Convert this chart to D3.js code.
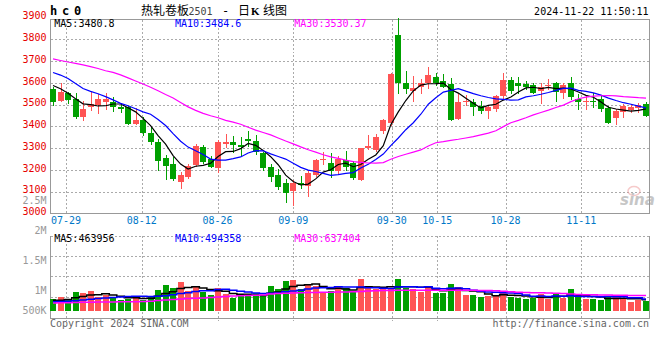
<!DOCTYPE html>
<html><head><meta charset="utf-8">
<script src="https://cdn.jsdelivr.net/npm/d3@7/dist/d3.min.js"></script>
<style>html,body{margin:0;padding:0;background:#fff;}svg{display:block;}</style>
</head><body>
<svg id="c" width="660" height="360"></svg>
<script>
const dates = ["07-25","07-26","07-29","07-30","07-31","08-01","08-02","08-05","08-06","08-07","08-08","08-09","08-12","08-13","08-14","08-15","08-16","08-19","08-20","08-21","08-22","08-23","08-26","08-27","08-28","08-29","08-30","09-02","09-03","09-04","09-05","09-06","09-09","09-10","09-11","09-12","09-13","09-18","09-19","09-20","09-23","09-24","09-25","09-26","09-27","09-30","10-08","10-09","10-10","10-11","10-14","10-15","10-16","10-17","10-18","10-21","10-22","10-23","10-24","10-25","10-28","10-29","10-30","10-31","11-01","11-04","11-05","11-06","11-07","11-08","11-11","11-12","11-13","11-14","11-15","11-18","11-19","11-20","11-21","11-22"];
const open = [3570,3518,3555,3526,3445,3488,3500,3512,3512,3491,3488,3413,3429,3370,3330,3255,3228,3147,3169,3223,3304,3249,3211,3321,3329,3315,3344,3333,3279,3214,3177,3139,3105,3142,3127,3179,3244,3231,3193,3246,3231,3154,3300,3293,3380,3414,3820,3601,3564,3579,3601,3625,3610,3593,3435,3510,3514,3494,3473,3480,3540,3613,3601,3595,3590,3564,3586,3601,3555,3601,3526,3511,3519,3525,3483,3437,3468,3476,3483,3503];
const high = [3582,3598,3558,3552,3517,3558,3548,3553,3537,3509,3494,3485,3442,3396,3341,3267,3261,3191,3228,3318,3315,3264,3338,3365,3356,3350,3380,3362,3284,3228,3203,3157,3154,3174,3199,3252,3282,3277,3264,3287,3241,3303,3361,3365,3436,3645,3897,3656,3632,3618,3674,3647,3639,3624,3552,3545,3528,3519,3494,3545,3647,3626,3629,3610,3601,3601,3618,3606,3598,3629,3547,3540,3552,3540,3494,3479,3503,3503,3509,3514];
const low = [3498,3516,3509,3439,3429,3476,3463,3482,3473,3466,3411,3411,3359,3320,3200,3160,3154,3118,3162,3220,3234,3212,3192,3307,3284,3269,3312,3272,3200,3151,3111,3053,3037,3115,3082,3174,3226,3166,3185,3200,3159,3152,3298,3288,3371,3407,3552,3555,3519,3552,3575,3590,3579,3428,3433,3500,3453,3464,3440,3473,3529,3552,3555,3573,3552,3509,3570,3519,3529,3526,3480,3480,3488,3473,3414,3411,3442,3468,3468,3446];
const close = [3514,3560,3521,3442,3480,3503,3526,3526,3488,3479,3413,3429,3371,3330,3243,3220,3160,3177,3218,3310,3238,3214,3329,3329,3315,3304,3335,3284,3211,3169,3123,3093,3139,3133,3185,3246,3249,3193,3252,3215,3165,3301,3312,3353,3429,3643,3598,3570,3576,3601,3636,3601,3583,3430,3514,3519,3491,3473,3488,3540,3613,3563,3586,3583,3555,3583,3590,3560,3590,3537,3511,3519,3511,3480,3417,3471,3494,3488,3498,3448];
const ma5 = [3588,3573,3552,3527,3504,3500,3494,3495,3503,3503,3486,3467,3437,3404,3358,3319,3266,3227,3204,3217,3221,3231,3262,3284,3285,3298,3322,3313,3290,3261,3224,3176,3147,3131,3135,3159,3190,3201,3225,3231,3215,3225,3249,3269,3312,3408,3467,3519,3563,3590,3596,3597,3599,3570,3553,3529,3507,3485,3497,3502,3521,3535,3558,3577,3580,3574,3579,3574,3576,3572,3558,3543,3534,3512,3488,3480,3475,3470,3474,3481];
const ma10 = [3648,3636,3620,3597,3574,3561,3550,3537,3522,3506,3495,3481,3467,3456,3432,3404,3367,3332,3305,3288,3271,3250,3245,3245,3252,3260,3278,3289,3288,3274,3262,3250,3231,3212,3199,3193,3184,3175,3179,3184,3188,3209,3226,3248,3273,3312,3347,3385,3417,3456,3502,3532,3558,3566,3574,3562,3551,3541,3533,3527,3524,3521,3522,3536,3541,3548,3556,3566,3575,3576,3566,3561,3554,3544,3530,3519,3509,3502,3493,3485];
const ma30 = [3710,3703,3696,3690,3683,3675,3666,3656,3648,3637,3623,3609,3595,3580,3564,3547,3531,3510,3490,3474,3460,3449,3440,3428,3420,3410,3396,3383,3372,3361,3347,3333,3320,3306,3293,3282,3270,3260,3253,3245,3238,3235,3232,3231,3234,3249,3262,3272,3282,3292,3310,3325,3330,3336,3341,3347,3353,3361,3369,3380,3399,3417,3428,3440,3453,3464,3475,3487,3498,3514,3527,3535,3539,3541,3542,3540,3537,3535,3532,3530];
const volume = [507000,564000,441000,770000,729000,812000,577000,647000,536000,441000,507000,618000,466000,618000,853000,1059000,948000,1182000,812000,989000,783000,647000,948000,688000,536000,647000,618000,742000,647000,1018000,894000,1224000,1265000,919000,1100000,1030000,742000,812000,989000,948000,812000,1306000,948000,919000,919000,919000,1306000,948000,919000,783000,989000,742000,742000,1100000,989000,647000,647000,577000,618000,672000,812000,577000,536000,482000,548000,688000,507000,742000,536000,894000,577000,482000,482000,441000,618000,577000,507000,371000,466000,412000];
const volMa5 = [440000,440000,470000,550000,602000,663000,666000,707000,660000,603000,542000,550000,514000,530000,612000,723000,789000,932000,971000,998000,943000,883000,836000,811000,720000,693000,687000,646000,638000,734000,784000,905000,1010000,1064000,1080000,1108000,1011000,921000,935000,904000,861000,973000,1001000,987000,981000,1002000,1002000,1002000,1002000,975000,989000,876000,835000,871000,912000,844000,825000,792000,696000,632000,665000,651000,643000,616000,591000,566000,552000,593000,604000,673000,651000,646000,594000,575000,520000,520000,525000,503000,508000,464000];
const volMa10 = [380000,390000,400000,420000,450000,480000,520000,540000,560000,580000,602000,608000,610000,595000,607000,632000,669000,723000,750000,805000,833000,836000,884000,891000,859000,818000,785000,741000,724000,727000,738000,796000,828000,851000,907000,946000,958000,965000,1000000,992000,984000,992000,961000,961000,942000,931000,987000,1001000,994000,978000,995000,939000,918000,936000,943000,916000,850000,813000,783000,772000,754000,738000,717000,656000,611000,615000,601000,618000,610000,632000,608000,599000,593000,589000,596000,585000,585000,548000,541000,494000];
const volMa30 = [330000,335000,340000,350000,360000,365000,370000,372000,375000,378000,380000,385000,390000,400000,430000,450000,470000,490000,510000,525000,540000,555000,580000,600000,615000,625000,635000,645000,660000,700000,720000,735000,745000,755000,760000,765000,770000,775000,780000,785000,790000,800000,820000,830000,840000,845000,850000,852000,855000,855000,855000,855000,855000,855000,855000,850000,850000,845000,840000,830000,810000,790000,770000,760000,755000,750000,740000,730000,720000,700000,680000,670000,665000,660000,655000,650000,645000,642000,640000,637000];
const priceTicks = [3000,3100,3200,3300,3400,3500,3600,3700,3800,3900];
const dateTicks = ["07-29","08-12","08-26","09-09","09-30","10-15","10-28","11-11"];
const volTicks = [500000,1000000,1500000,2000000,2500000];
const volTickLabels = ["500K","1M","1.5M","2M","2.5M"];
const maNames = ["MA5","MA10","MA30"];
const priceMaLast = ["3480.8","3484.6","3530.37"];
const volMaLast = ["463956","494358","637404"];

const svg = d3.select("#c");
const L = 50.5, R = 649.5, T = 19.5, B = 213.5, VT = 235.5, VB = 311, VBOT = 318.5;
const RED = "#ff5454", GREEN = "#00a000";
const maColors = ["#000000","#0000ff","#ff00ff"];
const mono = "'DejaVu Sans Mono','Liberation Mono',monospace";
const cjk = "'Noto Sans CJK SC','Noto Sans',sans-serif";

const x = d3.scaleBand().domain(dates).range([49.25, 649.75]);
const cx = i => x(dates[i]) + x.bandwidth() / 2;
const gx = d3.scaleLinear().domain([0, dates.length - 1]).range([50.8, 649.5]);
const y = d3.scaleLinear().domain([3000, 3900]).range([213.5, 17.6]);
const vy = d3.scaleLinear().domain([0, 1000000]).range([VB, VB - 1000000 / 41200]);
const vl = d3.scaleLinear().domain([1000000, 2500000]).range([290.7, 200.7]);

// grids
const grid = svg.append("g").attr("stroke", "#aaaaaa").attr("stroke-dasharray", "2,2").attr("shape-rendering", "crispEdges");
priceTicks.filter(p => p > 3000 && p < 3900).forEach(p => {
  const yy = Math.round(y(p)) + 0.5;
  grid.append("line").attr("x1", L).attr("x2", R).attr("y1", yy).attr("y2", yy);
});
dateTicks.forEach(d => {
  const xx = Math.round(gx(dates.indexOf(d))) + 0.5;
  grid.append("line").attr("x1", xx).attr("x2", xx).attr("y1", T).attr("y2", B);
  grid.append("line").attr("x1", xx).attr("x2", xx).attr("y1", VT).attr("y2", VBOT + 2);
});
d3.range(0, 4).forEach(i => {
  const yy = Math.round(VT + i * (317 - VT) / 4) + 0.5;
  grid.append("line").attr("x1", L).attr("x2", R).attr("y1", yy).attr("y2", yy);
});

// frames
const fr = svg.append("g").attr("stroke", "#999999").attr("shape-rendering", "crispEdges").attr("fill", "none");
fr.append("path").attr("d", `M${L},${T}H${R}V${B}H${L}Z`);
fr.append("path").attr("d", `M${L},${VT}V${VBOT}H${R}V${VT}`);

// candles
const cg = svg.append("g").attr("shape-rendering", "crispEdges");
dates.forEach((d, i) => {
  const up = close[i] >= open[i];
  const col = up ? RED : GREEN;
  const left = Math.round(cx(i) - 3);
  const wx = left + 3.5;
  cg.append("line").attr("x1", wx).attr("x2", wx)
    .attr("y1", Math.round(y(high[i]))).attr("y2", Math.round(y(low[i])) + 1)
    .attr("stroke", col);
  const top = Math.round(y(Math.max(open[i], close[i])));
  const bot = Math.round(y(Math.min(open[i], close[i])));
  cg.append("rect").attr("x", left).attr("y", top).attr("width", 6)
    .attr("height", Math.max(1, bot - top)).attr("fill", col);
});

// price MA lines
const line = d3.line().x((v, i) => cx(i)).y(v => y(v));
[ma5, ma10, ma30].forEach((s, k) => {
  svg.append("path").attr("d", line(s)).attr("fill", "none")
    .attr("stroke", maColors[k]).attr("stroke-width", 1.2);
});

// volume bars
const vg = svg.append("g").attr("shape-rendering", "crispEdges");
dates.forEach((d, i) => {
  const up = close[i] >= open[i];
  const top = Math.round(vy(volume[i]));
  vg.append("rect").attr("x", Math.round(cx(i) - 3)).attr("y", top)
    .attr("width", 6).attr("height", VB - top).attr("fill", up ? RED : GREEN);
});
const vline = d3.line().x((v, i) => cx(i)).y(v => vy(v)).curve(d3.curveStep);
[volMa5, volMa10, volMa30].forEach((s, k) => {
  svg.append("path").attr("d", vline(s)).attr("fill", "none")
    .attr("stroke", maColors[k]).attr("stroke-width", 1.5);
});

// price labels
const tx = svg.append("g").attr("font-family", mono).attr("font-size", 10);
priceTicks.forEach(p => {
  tx.append("text").attr("x", 46.5).attr("y", y(p) + 1.6).attr("text-anchor", "end")
    .attr("fill", "#e60000").text(p);
});
volTicks.forEach((v, i) => {
  tx.append("text").attr("x", 46.5).attr("y", Math.min(vl(v), 310.7) + 3.5).attr("text-anchor", "end")
    .attr("fill", "#999999").text(volTickLabels[i]);
});
dateTicks.forEach(d => {
  tx.append("text").attr("x", gx(dates.indexOf(d))).attr("y", 224).attr("text-anchor", "middle")
    .attr("fill", "#0078c8").text(d);
});

// legends
const legX = [54.3, 175, 294.3];
maNames.forEach((n, k) => {
  tx.append("text").attr("x", legX[k]).attr("y", 26.5).attr("fill", maColors[k]).text(n + ":" + priceMaLast[k]);
  tx.append("text").attr("x", legX[k]).attr("y", 241.6).attr("fill", maColors[k]).text(n + ":" + volMaLast[k]);
});

// header
svg.append("text").attr("x", 50).attr("y", 15).attr("font-family", mono).attr("font-size", 12)
  .attr("font-weight", "bold").attr("letter-spacing", 4.8).attr("fill", "#000").text("hc0");
const title = svg.append("text").attr("y", 14.5).attr("fill", "#000");
title.append("tspan").attr("x", 141).attr("font-family", cjk).attr("font-size", 12).text("热轧卷板");
title.append("tspan").attr("x", 188.5).attr("font-family", mono).attr("font-size", 10).attr("fill", "#444").text("2501");
title.append("tspan").attr("x", 222).attr("font-family", mono).attr("font-size", 12).text("-");
title.append("tspan").attr("x", 238).attr("font-family", cjk).attr("font-size", 12).text("日");
title.append("tspan").attr("x", 251).attr("font-family", "'Liberation Serif',serif").attr("font-weight", "bold").attr("font-size", 11).text("K");
title.append("tspan").attr("x", 263).attr("font-family", cjk).attr("font-size", 12).text("线图");
tx.append("text").attr("x", 648.5).attr("y", 15).attr("text-anchor", "end").attr("fill", "#000").text("2024-11-22 11:50:11");

// footer
tx.append("text").attr("x", 50).attr("y", 327).attr("fill", "#666").text("Copyright 2024 SINA.COM");
tx.append("text").attr("x", 649).attr("y", 327).attr("text-anchor", "end").attr("fill", "#666").text("http://finance.sina.com.cn");

// watermark
const wm = svg.append("g").attr("opacity", 0.55);
wm.append("ellipse").attr("cx", 634).attr("cy", 191).attr("rx", 6).attr("ry", 4.5)
  .attr("fill", "none").attr("stroke", "#f0a0a0").attr("stroke-width", 1.5);
wm.append("text").attr("x", 620).attr("y", 205).attr("font-family", "'DejaVu Sans',sans-serif")
  .attr("font-size", 15).attr("font-weight", "bold").attr("font-style", "italic").attr("fill", "#999").text("sina");
</script>
</body></html>
